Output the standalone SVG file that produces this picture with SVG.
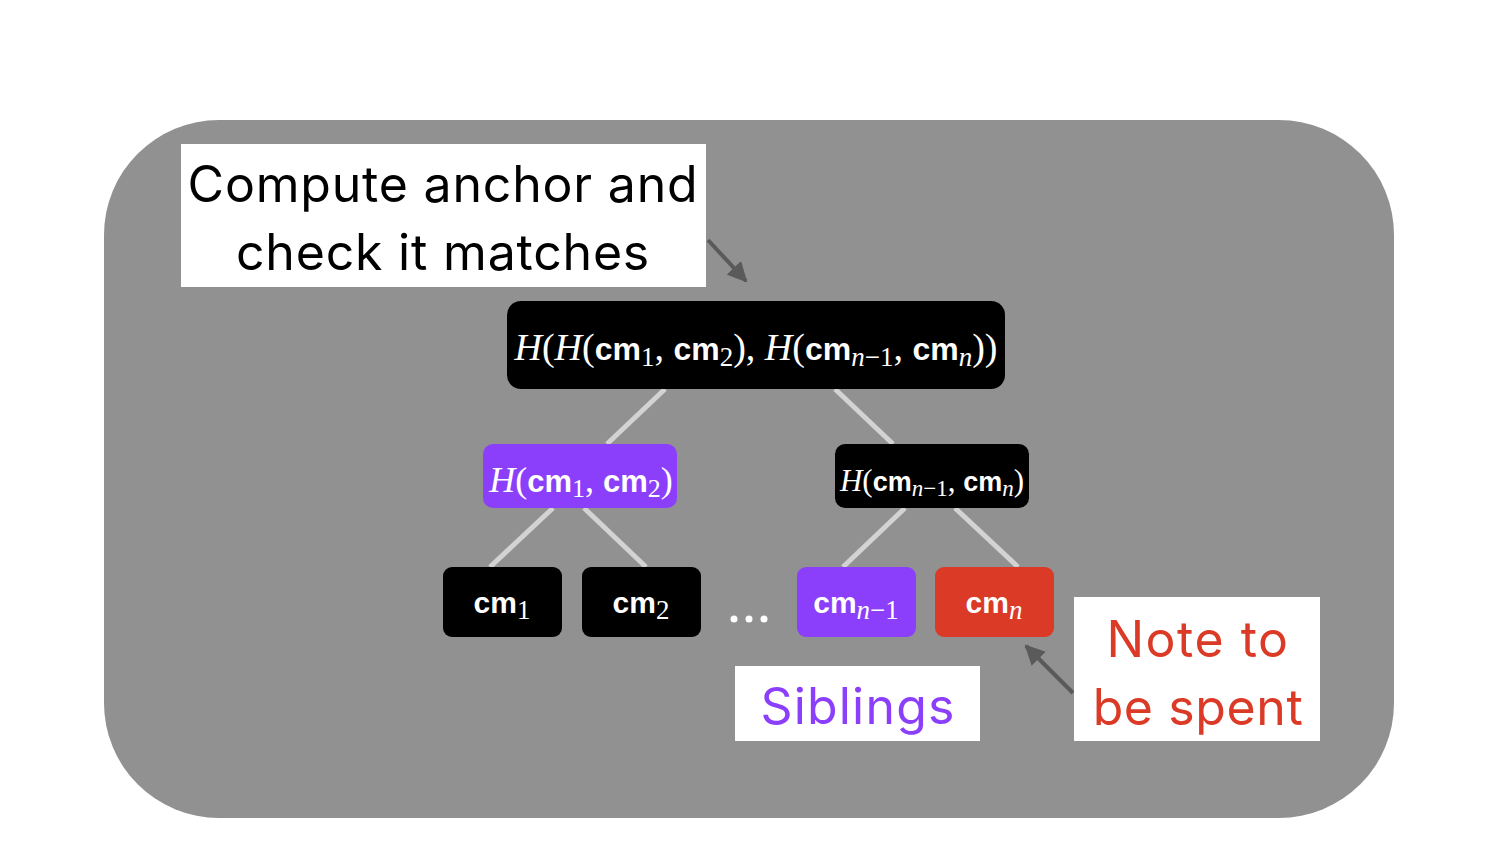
<svg xmlns="http://www.w3.org/2000/svg" width="1500" height="854" viewBox="0 0 1500 854">
<style>
.lbl{font-family:Inter,"Noto Sans","Liberation Sans",sans-serif;font-size:50px;text-anchor:middle;letter-spacing:0.8px}
.m{fill:#fff;text-anchor:middle}
.i{font-family:"Liberation Serif",serif;font-style:italic}
.r{font-family:"Liberation Serif",serif}
.b{font-family:"Liberation Sans",Arial,sans-serif;font-weight:bold}
.edge{stroke:#d3d3d3;stroke-width:5;fill:none}
.arr{stroke:#5a5a5a;stroke-width:4;fill:none;marker-end:url(#ah)}
</style>
<defs>
<marker id="ah" viewBox="0 0 10 10" refX="9" refY="5" markerWidth="5" markerHeight="5" orient="auto" markerUnits="strokeWidth">
<path d="M0,0 L10,5 L0,10 z" fill="#5a5a5a"/>
</marker>
</defs>
<rect width="1500" height="854" fill="#fff"/>
<rect id="frame" x="104" y="120" width="1290" height="698" rx="115" ry="115" fill="#919191"/>
<g id="connectors">
<line class="edge" x1="665" y1="389" x2="607" y2="444"/>
<line class="edge" x1="835" y1="389" x2="893" y2="444"/>
<line class="edge" x1="553" y1="508" x2="490" y2="567"/>
<line class="edge" x1="584" y1="508" x2="646" y2="567"/>
<line class="edge" x1="905" y1="508" x2="843" y2="567"/>
<line class="edge" x1="955" y1="508" x2="1018" y2="567"/>
<line class="arr" x1="708" y1="240" x2="746" y2="281"/>
<line class="arr" x1="1073" y1="693" x2="1026" y2="646"/>
</g>
<g id="root">
<rect x="507" y="301" width="498" height="88" rx="14" fill="#000"/>
<text class="m" x="756" y="360" font-size="38"><tspan class="i">H</tspan><tspan class="r">(</tspan><tspan class="i">H</tspan><tspan class="r">(</tspan><tspan class="b" font-size="32">cm</tspan><tspan class="r" font-size="27" dy="6">1</tspan><tspan class="r" dy="-6">, </tspan><tspan class="b" font-size="32">cm</tspan><tspan class="r" font-size="27" dy="6">2</tspan><tspan class="r" dy="-6">), </tspan><tspan class="i">H</tspan><tspan class="r">(</tspan><tspan class="b" font-size="32">cm</tspan><tspan class="i" font-size="27" dy="6">n</tspan><tspan class="r" font-size="27">−1</tspan><tspan class="r" dy="-6">, </tspan><tspan class="b" font-size="32">cm</tspan><tspan class="i" font-size="27" dy="6">n</tspan><tspan class="r" dy="-6">))</tspan></text>
</g>
<g id="h12">
<rect x="483" y="444" width="194" height="64" rx="10" fill="#8b3ffb"/>
<text class="m" x="581" y="492" font-size="36"><tspan class="i">H</tspan><tspan class="r">(</tspan><tspan class="b" font-size="31">cm</tspan><tspan class="r" font-size="26" dy="5">1</tspan><tspan class="r" dy="-5">, </tspan><tspan class="b" font-size="31">cm</tspan><tspan class="r" font-size="26" dy="5">2</tspan><tspan class="r" dy="-5">)</tspan></text>
</g>
<g id="hn">
<rect x="835" y="444" width="194" height="64" rx="10" fill="#000"/>
<text class="m" x="932" y="491" font-size="31"><tspan class="i">H</tspan><tspan class="r">(</tspan><tspan class="b" font-size="27">cm</tspan><tspan class="i" font-size="23" dy="5">n</tspan><tspan class="r" font-size="23">−1</tspan><tspan class="r" dy="-5">, </tspan><tspan class="b" font-size="27">cm</tspan><tspan class="i" font-size="23" dy="5">n</tspan><tspan class="r" dy="-5">)</tspan></text>
</g>
<g id="cm1">
<rect x="443" y="567" width="119" height="70" rx="9" fill="#000"/>
<text class="m" x="502" y="613" font-size="30"><tspan class="b">cm</tspan><tspan class="r" font-size="27" dy="6">1</tspan></text>
</g>
<g id="cm2">
<rect x="582" y="567" width="119" height="70" rx="9" fill="#000"/>
<text class="m" x="641" y="613" font-size="30"><tspan class="b">cm</tspan><tspan class="r" font-size="27" dy="6">2</tspan></text>
</g>
<g id="dots">
<circle cx="734" cy="619" r="3.5" fill="#fff"/>
<circle cx="749" cy="619" r="3.5" fill="#fff"/>
<circle cx="764" cy="619" r="3.5" fill="#fff"/>
</g>
<g id="cmn1">
<rect x="797" y="567" width="119" height="70" rx="9" fill="#8b3ffb"/>
<text class="m" x="856" y="613" font-size="30"><tspan class="b">cm</tspan><tspan class="i" font-size="27" dy="6">n</tspan><tspan class="r" font-size="27">−1</tspan></text>
</g>
<g id="cmn">
<rect x="935" y="567" width="119" height="70" rx="9" fill="#db3a26"/>
<text class="m" x="994" y="613" font-size="30"><tspan class="b">cm</tspan><tspan class="i" font-size="27" dy="6">n</tspan></text>
</g>
<g id="anchor-note">
<rect x="181" y="144" width="525" height="143" fill="#fff"/>
<text class="lbl" x="443" y="202" fill="#000">Compute anchor and</text>
<text class="lbl" x="443" y="270" fill="#000">check it matches</text>
</g>
<g id="siblings-note">
<rect x="735" y="666" width="245" height="75" fill="#fff"/>
<text class="lbl" x="858" y="724" fill="#8b3ffb" style="letter-spacing:1.2px">Siblings</text>
</g>
<g id="spent-note">
<rect x="1074" y="597" width="246" height="144" fill="#fff"/>
<text class="lbl" x="1198" y="657" fill="#db3a26" style="letter-spacing:1.5px">Note to</text>
<text class="lbl" x="1198" y="725" fill="#db3a26" style="letter-spacing:0.6px">be spent</text>
</g>
</svg>
